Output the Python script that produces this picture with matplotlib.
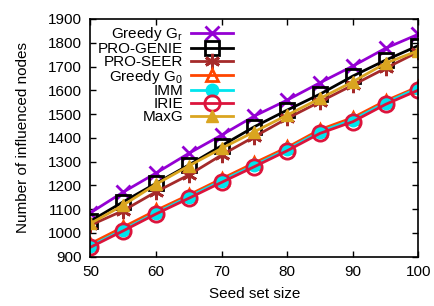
import numpy as np
import matplotlib
matplotlib.use("Agg")
import matplotlib.pyplot as plt

plt.rcParams['font.family'] = ['Liberation Sans', 'DejaVu Sans']
plt.rcParams['mathtext.default'] = 'regular'
plt.rcParams['font.size'] = 11

# seed set sizes
seeds = [50, 55, 60, 65, 70, 75, 80, 85, 90, 95, 100]

greedy_gr = [1085, 1172, 1252, 1335, 1412, 1492, 1559, 1632, 1702, 1777, 1836]
pro_genie = [1050, 1131, 1209, 1286, 1367, 1447, 1517, 1584, 1660, 1727, 1788]
pro_seer = [1033, 1094, 1173, 1244, 1328, 1405, 1482, 1552, 1622, 1693, 1762]
greedy_g0 = [955, 1025, 1095, 1160, 1228, 1295, 1360, 1435, 1485, 1556, 1615]
imm = [945, 1014, 1085, 1152, 1220, 1285, 1352, 1426, 1476, 1548, 1610]
irie = [940, 1009, 1080, 1146, 1213, 1279, 1346, 1419, 1468, 1541, 1601]
maxg = [1040, 1117, 1205, 1282, 1356, 1426, 1496, 1566, 1636, 1714, 1767]

labels = ['Greedy G$_r$', 'PRO-GENIE', 'PRO-SEER', 'Greedy G$_0$',
          'IMM', 'IRIE', 'MaxG']

fig = plt.figure(figsize=(4.35, 3.06), dpi=100)
ax = fig.add_axes([0.208, 0.161, 0.754, 0.777])

lw = 2
ax.plot(seeds, greedy_gr, color='#9400d3', lw=lw, marker='x', ms=10, mew=2,
        label=labels[0])
ax.plot(seeds, pro_genie, color='black', lw=lw, marker='s', ms=10.5, mew=2,
        mfc='none', label=labels[1])
ax.plot(seeds, pro_seer, color='#a52a2a', lw=lw, marker=(6, 2, 0), ms=11, mew=2,
        label=labels[2])
ax.plot(seeds, greedy_g0, color='#ff4500', lw=lw, marker='^', ms=9, mew=2,
        mfc='none', label=labels[3])
ax.plot(seeds, imm, color='#00e5ee', lw=lw, marker='o', ms=9, mew=1,
        label=labels[4])
ax.plot(seeds, irie, color='#dc143c', lw=lw, marker='o', ms=11, mew=2,
        mfc='none', label=labels[5])
ax.plot(seeds, maxg, color='#daa520', lw=lw, marker='^', ms=9, mew=1,
        label=labels[6])

ax.set_xlim(50, 100)
ax.set_ylim(900, 1900)
ax.set_xticks(np.arange(50, 101, 10))
ax.set_yticks(np.arange(900, 1901, 100))
ax.tick_params(direction='in', top=True, right=True, length=4, width=1,
               pad=6, labelsize=11)
for s in ax.spines.values():
    s.set_linewidth(1.2)

ax.set_xlabel('Seed set size', labelpad=6)
ax.set_ylabel('Number of influenced nodes', labelpad=13)

leg = ax.legend(loc='upper left', bbox_to_anchor=(-0.01, 1.018), frameon=False,
                markerfirst=False, handlelength=2.75, handletextpad=0.5,
                labelspacing=-0.08, borderpad=0.2)

fig.savefig('out.png', dpi=100)
